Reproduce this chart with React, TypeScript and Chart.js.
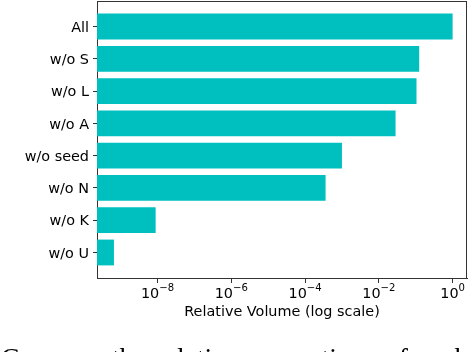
import React, { useEffect, useRef } from 'react';
import { Chart, registerables } from 'chart.js';

Chart.register(...registerables);

// ---- data ----
const categories = ['All', 'w/o S', 'w/o L', 'w/o A', 'w/o seed', 'w/o N', 'w/o K', 'w/o U'];
const relativeVolume = [1.0, 0.124, 0.105, 0.0284, 1.0e-3, 3.6e-4, 8.9e-9, 6.6e-10];
const xTickExponents = [-8, -6, -4, -2, 0];
const xMinExponent = -9.64;
const xMaxExponent = 0.39;
const yMin = -0.79;
const yMax = 7.79;
const xAxisTitle = 'Relative Volume (log scale)';
const caption = 'Compare the relative proportions of each';

const FONT = '"DejaVu Sans"';
const SPINE = '#333';

const frameAndLabelsPlugin = {
  id: 'frameAndLabels',
  afterDraw(chart: any) {
    const ctx = chart.ctx as CanvasRenderingContext2D;
    const sx = chart.scales.x;
    const area = chart.chartArea;
    ctx.save();
    // top & right spines
    ctx.strokeStyle = SPINE;
    ctx.lineWidth = 1;
    ctx.beginPath();
    ctx.moveTo(area.left, area.top + 0.5);
    ctx.lineTo(area.right, area.top + 0.5);
    ctx.moveTo(area.right - 0.5, area.top);
    ctx.lineTo(area.right - 0.5, area.bottom);
    ctx.stroke();
    // x tick labels as 10^e
    ctx.fillStyle = '#000';
    ctx.textBaseline = 'alphabetic';
    ctx.textAlign = 'left';
    const base = area.bottom + 20.2;
    for (const e of xTickExponents) {
      const px = sx.getPixelForValue(Math.pow(10, e));
      ctx.font = `14.4px ${FONT}`;
      const mainW = ctx.measureText('10').width;
      const sup = e < 0 ? '\u2212' + Math.abs(e) : String(e);
      ctx.font = `10.08px ${FONT}`;
      const supW = ctx.measureText(sup).width;
      const start = px - (mainW + supW) / 2;
      ctx.font = `14.4px ${FONT}`;
      ctx.fillText('10', start, base);
      ctx.font = `10.08px ${FONT}`;
      ctx.fillText(sup, start + mainW, base - 7.5);
    }
    ctx.restore();
  },
};

export default function App() {
  const ref = useRef<HTMLCanvasElement>(null);

  useEffect(() => {
    const chart = new Chart(ref.current!, {
      type: 'bar',
      data: {
        datasets: [
          {
            data: relativeVolume.map((v, i) => ({ x: v, y: i })),
            backgroundColor: '#00BFBF',
            borderWidth: 0,
            barPercentage: 0.8,
            categoryPercentage: 1,
          },
        ],
      },
      options: {
        indexAxis: 'y',
        responsive: false,
        devicePixelRatio: 1,
        animation: false,
        events: [],
        layout: { padding: { top: 1, right: 5, bottom: 0, left: 0 } },
        plugins: { legend: { display: false }, tooltip: { enabled: false } },
        scales: {
          x: {
            type: 'logarithmic',
            min: Math.pow(10, xMinExponent),
            max: Math.pow(10, xMaxExponent),
            bounds: 'data',
            z: 1,
            afterBuildTicks: (s: any) => {
              s.ticks = xTickExponents.map((e) => ({ value: Math.pow(10, e) }));
            },
            afterFit: (s: any) => {
              s.height = 74;
              s.paddingLeft = 0;
              s.paddingRight = 0;
            },
            ticks: { display: false, autoSkip: false },
            grid: {
              display: true,
              drawOnChartArea: false,
              drawTicks: true,
              tickLength: 5,
              color: SPINE,
              lineWidth: 1,
            },
            border: { display: true, color: SPINE, width: 1 },
            title: {
              display: true,
              text: xAxisTitle,
              color: '#000',
              font: { family: FONT, size: 14.4 },
              padding: { top: 0, bottom: 31.2 },
            },
          },
          y: {
            type: 'linear',
            reverse: true,
            min: yMin,
            max: yMax,
            bounds: 'data',
            offset: false,
            z: 1,
            afterBuildTicks: (s: any) => {
              s.ticks = categories.map((_, i) => ({ value: i }));
            },
            afterFit: (s: any) => {
              s.width = 97;
              s.paddingTop = 0;
              s.paddingBottom = 0;
            },
            ticks: {
              autoSkip: false,
              padding: 4,
              labelOffset: 1.5,
              color: '#000',
              font: { family: FONT, size: 14.4 },
              callback: (v: any) => categories[v as number] ?? '',
            },
            grid: {
              display: true,
              offset: false,
              drawOnChartArea: false,
              drawTicks: true,
              tickLength: 4,
              color: SPINE,
              lineWidth: 1,
            },
            border: { display: true, color: SPINE, width: 1 },
          },
        },
      } as any,
      plugins: [frameAndLabelsPlugin],
    });
    return () => chart.destroy();
  }, []);

  return (
    <div
      style={{
        position: 'fixed',
        left: 0,
        top: 0,
        width: 472,
        height: 352,
        overflow: 'hidden',
        background: '#fff',
      }}
    >
      <canvas
        ref={ref}
        width={472}
        height={352}
        style={{ position: 'absolute', left: 0, top: 0, width: 472, height: 352 }}
      />
      <div
        style={{
          position: 'absolute',
          left: 1,
          top: 343.6,
          fontFamily: '"Liberation Serif", serif',
          fontSize: '27.6px',
          lineHeight: '27.6px',
          wordSpacing: '2.9px',
          whiteSpace: 'nowrap',
          color: '#000',
        }}
      >
        {caption}
      </div>
    </div>
  );
}
